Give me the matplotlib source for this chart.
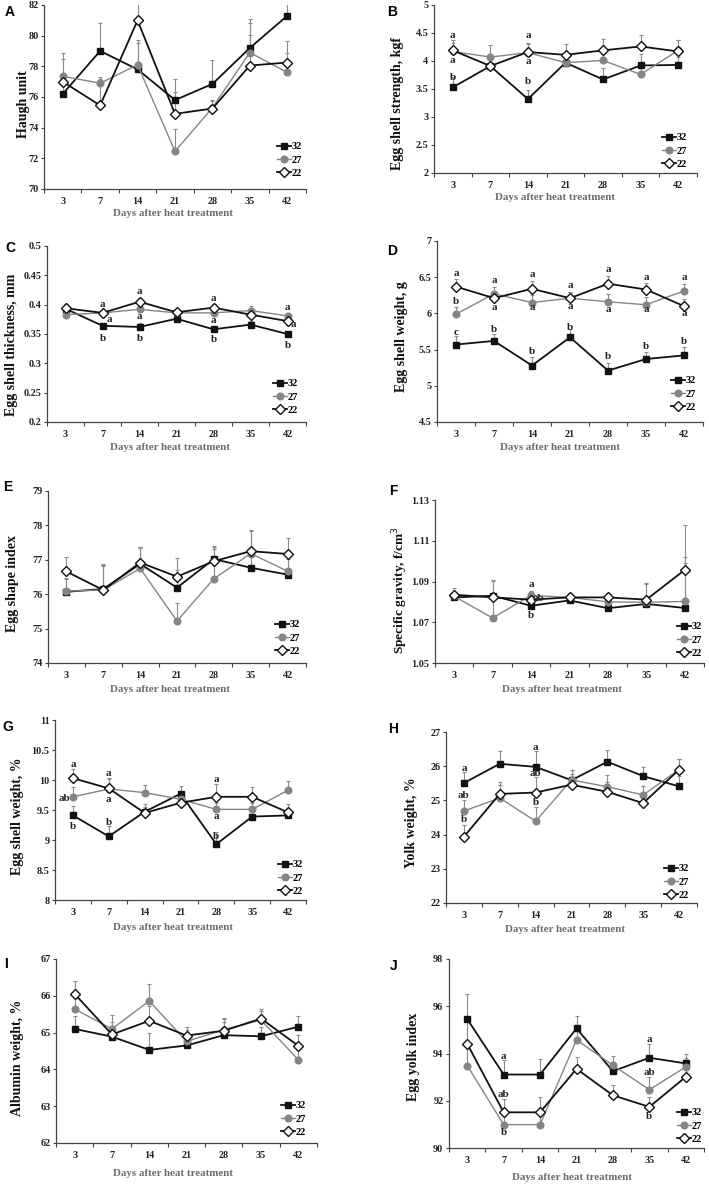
import matplotlib
matplotlib.use('Agg')
import matplotlib.pyplot as plt
from matplotlib.ticker import FixedLocator, NullFormatter

# ---------------- data ----------------
DAYS = ['3', '7', '14', '21', '28', '35', '42']
SERIES = ['32', '27', '22']
XLABEL = 'Days after heat treatment'

# A  Haugh unit
haugh_32 = [76.2, 79.0, 77.8, 75.8, 76.85, 79.2, 81.3]
haugh_27 = [77.35, 76.9, 78.1, 72.45, 75.3, 78.9, 77.6]
haugh_22 = [77.0, 75.45, 81.0, 74.9, 75.25, 78.05, 78.25]
haugh_32_err = [0.8, 1.8, 1.7, 1.4, 1.55, 1.9, 1.0]
haugh_27_err = [1.55, 0.3, 1.65, 1.45, 0.5, 1.9, 1.3]
haugh_22_err = [1.5, 1.85, 1.3, 1.4, 0.5, 2.0, 1.4]

# B  Egg shell strength
str_32 = [3.53, 3.91, 3.32, 3.97, 3.67, 3.92, 3.93]
str_27 = [4.17, 4.07, 4.15, 3.97, 4.01, 3.76, 4.19]
str_22 = [4.19, 3.91, 4.16, 4.11, 4.19, 4.26, 4.17]
str_32_err = [0.18, 0.15, 0.16, 0.15, 0.21, 0.21, 0.15]
str_27_err = [0.15, 0.21, 0.15, 0.15, 0.15, 0.15, 0.19]
str_22_err = [0.18, 0.15, 0.16, 0.20, 0.21, 0.21, 0.20]

# C  Egg shell thickness
thk_32 = [0.393, 0.364, 0.362, 0.376, 0.358, 0.366, 0.350]
thk_27 = [0.383, 0.386, 0.392, 0.386, 0.386, 0.390, 0.381]
thk_22 = [0.394, 0.386, 0.405, 0.387, 0.395, 0.383, 0.372]
thk_32_err = [0.006, 0.005, 0.006, 0.005, 0.006, 0.006, 0.005]
thk_27_err = [0.006, 0.005, 0.006, 0.005, 0.006, 0.007, 0.005]
thk_22_err = [0.007, 0.005, 0.006, 0.006, 0.006, 0.006, 0.005]

# D  Egg shell weight, g
sw_32 = [5.57, 5.62, 5.28, 5.67, 5.21, 5.37, 5.42]
sw_27 = [5.99, 6.27, 6.15, 6.21, 6.16, 6.12, 6.31]
sw_22 = [6.37, 6.21, 6.34, 6.21, 6.41, 6.33, 6.10]
sw_32_err = [0.12, 0.10, 0.12, 0.11, 0.11, 0.09, 0.11]
sw_27_err = [0.10, 0.10, 0.10, 0.09, 0.11, 0.10, 0.10]
sw_22_err = [0.11, 0.09, 0.11, 0.09, 0.11, 0.09, 0.10]

# E  Egg shape index
esi_32 = [76.07, 76.15, 76.88, 76.19, 77.02, 76.77, 76.57]
esi_27 = [76.09, 76.12, 76.75, 75.22, 76.45, 77.18, 76.67]
esi_22 = [76.66, 76.12, 76.92, 76.51, 76.96, 77.25, 77.17]
esi_32_err = [0.40, 0.70, 0.50, 0.50, 0.38, 0.60, 0.45]
esi_27_err = [0.35, 0.76, 0.60, 0.51, 0.85, 0.70, 0.40]
esi_22_err = [0.42, 0.70, 0.45, 0.54, 0.40, 0.60, 0.45]

# F  Specific gravity
sg_32 = [1.0822, 1.0830, 1.0781, 1.0807, 1.0769, 1.0790, 1.0770]
sg_27 = [1.0827, 1.0721, 1.0832, 1.0822, 1.0800, 1.0798, 1.0802]
sg_22 = [1.0835, 1.0822, 1.0811, 1.0822, 1.0822, 1.0811, 1.0957]
sg_32_err = [0.002, 0.0078, 0.002, 0.002, 0.002, 0.010, 0.022]
sg_27_err = [0.002, 0.018, 0.002, 0.002, 0.002, 0.0094, 0.022]
sg_22_err = [0.0032, 0.002, 0.002, 0.002, 0.002, 0.002, 0.022]

# G  Egg shell weight, %
esw_32 = [9.41, 9.06, 9.47, 9.77, 8.93, 9.39, 9.41]
esw_27 = [9.72, 9.85, 9.79, 9.68, 9.51, 9.51, 9.83]
esw_22 = [10.03, 9.86, 9.45, 9.62, 9.72, 9.72, 9.46]
esw_32_err = [0.16, 0.17, 0.13, 0.13, 0.21, 0.10, 0.10]
esw_27_err = [0.16, 0.17, 0.13, 0.10, 0.10, 0.10, 0.15]
esw_22_err = [0.15, 0.18, 0.10, 0.10, 0.21, 0.17, 0.14]

# H  Yolk weight, %
yw_32 = [25.51, 26.07, 25.98, 25.59, 26.13, 25.71, 25.41]
yw_27 = [24.69, 25.07, 24.39, 25.60, 25.40, 25.16, 25.90]
yw_22 = [23.94, 25.19, 25.23, 25.46, 25.25, 24.92, 25.90]
yw_32_err = [0.32, 0.37, 0.46, 0.30, 0.34, 0.26, 0.30]
yw_27_err = [0.32, 0.38, 0.42, 0.30, 0.33, 0.27, 0.30]
yw_22_err = [0.33, 0.36, 0.45, 0.32, 0.30, 0.30, 0.30]

# I  Albumin weight, %
aw_32 = [65.10, 64.89, 64.53, 64.65, 64.93, 64.90, 65.16]
aw_27 = [65.64, 65.10, 65.86, 64.76, 65.08, 65.34, 64.26]
aw_22 = [66.05, 64.95, 65.32, 64.92, 65.05, 65.38, 64.64]
aw_32_err = [0.36, 0.30, 0.46, 0.30, 0.36, 0.25, 0.30]
aw_27_err = [0.30, 0.39, 0.45, 0.30, 0.30, 0.25, 0.30]
aw_22_err = [0.36, 0.35, 0.40, 0.23, 0.36, 0.25, 0.30]

# J  Egg yolk index
yi_32 = [95.46, 93.11, 93.11, 95.06, 93.25, 93.82, 93.58]
yi_27 = [93.49, 90.99, 90.99, 94.58, 93.50, 92.47, 93.43]
yi_22 = [94.41, 91.51, 91.51, 93.35, 92.23, 91.74, 93.01]
yi_32_err = [1.04, 0.60, 0.65, 0.52, 0.40, 0.58, 0.40]
yi_27_err = [1.00, 0.60, 0.60, 0.50, 0.38, 0.53, 0.40]
yi_22_err = [1.00, 0.56, 0.63, 0.51, 0.42, 0.42, 0.40]

# significance letters: (day index, y value, text, x shift in categories)
ann_B = [(0, 4.45, 'a', 0), (0, 4.01, 'a', 0), (0, 3.70, 'b', 0),
         (2, 4.45, 'a', 0), (2, 3.99, 'a', 0), (2, 3.63, 'b', 0)]
ann_C = [(1, 0.401, 'a', 0), (1, 0.375, 'a', 0.18), (1, 0.343, 'b', 0),
         (2, 0.422, 'a', 0), (2, 0.380, 'a', 0), (2, 0.343, 'b', 0),
         (4, 0.410, 'a', 0), (4, 0.373, 'a', 0), (4, 0.341, 'b', 0),
         (6, 0.395, 'a', 0), (6, 0.367, 'a', 0.15), (6, 0.330, 'b', 0)]
ann_D = [(0, 6.55, 'a', 0), (1, 6.45, 'a', 0), (2, 6.54, 'a', 0), (3, 6.39, 'a', 0),
         (4, 6.61, 'a', 0), (5, 6.49, 'a', 0), (6, 6.49, 'a', 0),
         (0, 6.17, 'b', 0), (1, 6.08, 'a', 0), (2, 6.08, 'a', 0), (3, 6.10, 'a', 0),
         (4, 6.06, 'a', 0), (5, 6.06, 'a', 0), (6, 6.00, 'a', 0),
         (0, 5.74, 'c', 0), (1, 5.78, 'b', 0), (2, 5.48, 'b', 0), (3, 5.81, 'b', 0),
         (4, 5.41, 'b', 0), (5, 5.54, 'b', 0), (6, 5.61, 'b', 0)]
ann_F = [(2, 1.0884, 'a', 0), (2, 1.0818, 'ab', 0.2), (2, 1.0732, 'b', 0)]
ann_G = [(0, 10.26, 'a', 0), (0, 9.69, 'ab', -0.24), (0, 9.22, 'b', 0),
         (1, 10.10, 'a', 0), (1, 9.68, 'a', 0), (1, 9.29, 'b', 0),
         (4, 10.00, 'a', 0), (4, 9.39, 'a', 0), (4, 9.06, 'b', 0)]
ann_H = [(0, 25.94, 'a', 0), (0, 25.14, 'ab', 0), (0, 24.43, 'b', 0),
         (2, 26.56, 'a', 0), (2, 25.80, 'ab', 0), (2, 24.95, 'b', 0)]
ann_J = [(1, 93.89, 'a', 0), (1, 92.28, 'ab', 0), (1, 90.64, 'b', 0),
         (5, 94.60, 'a', 0), (5, 93.20, 'ab', 0), (5, 91.34, 'b', 0)]

# ---------------- drawing ----------------
W, H = 709, 1184
fig = plt.figure(figsize=(W / 100, H / 100), dpi=100)
SERIF = 'Liberation Serif'
SANS = 'Liberation Sans'

STY = [dict(color='#111111', marker='s', ms=4.5, mfc='#111111', mec='#111111', lw=1.3),
       dict(color='#858585', marker='o', ms=4.8, mfc='#858585', mec='#858585', lw=1.0),
       dict(color='#111111', marker='D', ms=4.8, mfc='white', mec='#111111', mew=1.0, lw=1.3)]


def px_rect(x0, x1, yt, yb):
    return [x0 / W, 1 - yb / H, (x1 - x0) / W, (yb - yt) / H]


def panel(box, ylim, yticks, vals, errs, letter, letter_xy, ylabel, ylab_xy,
          xlab_xy, leg_xy, ann=(), ylab_size=10):
    ax = fig.add_axes(px_rect(*box))
    x = list(range(len(DAYS)))
    for v, e in zip(vals, errs):
        ax.errorbar(x, v, yerr=[[0] * len(v), e], fmt='none', ecolor='#8c8c8c',
                    elinewidth=0.8, capsize=1.6, capthick=0.8, zorder=2)
    handles = []
    for i, (v, lab) in enumerate(zip(vals, SERIES)):
        h, = ax.plot(x, v, label=lab, zorder=3 + i, **STY[i])
        handles.append(h)
    ax.set_xlim(-0.5, len(DAYS) - 0.5)
    ax.set_ylim(*ylim)
    ax.set_yticks(yticks)
    ax.set_yticklabels(['{:g}'.format(t) for t in yticks])
    ax.set_xticks(x)
    ax.set_xticklabels(DAYS)
    ax.xaxis.set_minor_locator(FixedLocator([i - 0.5 for i in range(len(DAYS) + 1)]))
    ax.xaxis.set_minor_formatter(NullFormatter())
    ax.tick_params(axis='x', which='major', length=0, pad=6)
    ax.tick_params(axis='x', which='minor', length=3, width=0.8, color='#444444')
    ax.tick_params(axis='y', direction='out', length=2.5, width=0.8,
                  color='#444444', pad=1.5)
    for lbl in ax.get_xticklabels() + ax.get_yticklabels():
        lbl.set_fontfamily(SERIF)
        lbl.set_fontweight('bold')
        lbl.set_fontsize(7.3)
        lbl.set_color('#222222')
    for s in ['top', 'right']:
        ax.spines[s].set_visible(False)
    for s in ['left', 'bottom']:
        ax.spines[s].set_color('#444444')
        ax.spines[s].set_linewidth(0.9)
    for (i, yv, t, dx) in ann:
        ax.text(i + dx, yv, t, ha='center', va='center', fontfamily=SERIF,
                fontweight='bold', fontsize=8, color='#222222', zorder=10)
    ax.legend(handles=handles, loc='center left',
              bbox_to_anchor=(leg_xy[0] / W, 1 - leg_xy[1] / H),
              bbox_transform=fig.transFigure, frameon=False, borderpad=0,
              borderaxespad=0, handlelength=1.3, handletextpad=0.15,
              labelspacing=0.38,
              prop=dict(family=SERIF, weight='bold', size=7.5))
    fig.text(letter_xy[0] / W, 1 - letter_xy[1] / H, letter, fontfamily=SANS,
             fontweight='bold', fontsize=10, ha='center', va='center')
    fig.text(ylab_xy[0] / W, 1 - ylab_xy[1] / H, ylabel, rotation=90,
             fontfamily=SERIF, fontweight='bold', fontsize=ylab_size,
             ha='center', va='center', color='#111111')
    fig.text(xlab_xy[0] / W, 1 - xlab_xy[1] / H, XLABEL, fontfamily=SERIF,
             fontweight='bold', fontsize=7.8, ha='center', va='center',
             color='#6a6a6a')
    return ax


panel((44, 306, 5, 189), (70, 82), [70, 72, 74, 76, 78, 80, 82],
      [haugh_32, haugh_27, haugh_22], [haugh_32_err, haugh_27_err, haugh_22_err],
      'A', (10, 12), 'Haugh unit', (24, 104), (173, 214), (277, 160))

panel((434, 697, 5, 173), (2, 5), [2, 2.5, 3, 3.5, 4, 4.5, 5],
      [str_32, str_27, str_22], [str_32_err, str_27_err, str_22_err],
      'B', (392, 12), 'Egg shell strength, kgf', (397, 103), (555, 197),
      (662, 151), ann_B)

panel((47, 306, 246, 422), (0.2, 0.5), [0.2, 0.25, 0.3, 0.35, 0.4, 0.45, 0.5],
      [thk_32, thk_27, thk_22], [thk_32_err, thk_27_err, thk_22_err],
      'C', (10, 248), 'Egg shell thickness, mm', (12, 345), (170, 448),
      (273, 397), ann_C)

panel((437, 703, 241, 422), (4.5, 7), [4.5, 5, 5.5, 6, 6.5, 7],
      [sw_32, sw_27, sw_22], [sw_32_err, sw_27_err, sw_22_err],
      'D', (392, 251), 'Egg shell weight, g', (401, 337), (560, 448),
      (671, 394), ann_D)

panel((48, 306, 491, 663), (74, 79), [74, 75, 76, 77, 78, 79],
      [esi_32, esi_27, esi_22], [esi_32_err, esi_27_err, esi_22_err],
      'E', (8, 487), 'Egg shape index', (13, 584), (170, 690), (275, 638))

panel((435, 704, 500, 663), (1.05, 1.13), [1.05, 1.07, 1.09, 1.11, 1.13],
      [sg_32, sg_27, sg_22], [sg_32_err, sg_27_err, sg_22_err],
      'F', (393, 491), 'Specific gravity, f/cm$^3$', (400, 590), (562, 690),
      (677, 640), ann_F, ylab_size=9.6)

panel((55, 306, 720, 900), (8, 11), [8, 8.5, 9, 9.5, 10, 10.5, 11],
      [esw_32, esw_27, esw_22], [esw_32_err, esw_27_err, esw_22_err],
      'G', (8, 727), 'Egg shell weight, %', (18, 816), (173, 928),
      (278, 878), ann_G)

panel((446, 697, 732, 903), (22, 27), [22, 23, 24, 25, 26, 27],
      [yw_32, yw_27, yw_22], [yw_32_err, yw_27_err, yw_22_err],
      'H', (393, 729), 'Yolk weight, %', (411, 823), (565, 930),
      (664, 882), ann_H)

panel((56, 317, 959, 1143), (62, 67), [62, 63, 64, 65, 66, 67],
      [aw_32, aw_27, aw_22], [aw_32_err, aw_27_err, aw_22_err],
      'I', (6, 964), 'Albumin weight, %', (18, 1058), (173, 1173),
      (281, 1119))

panel((449, 704, 959, 1148), (90, 98), [90, 92, 94, 96, 98],
      [yi_32, yi_27, yi_22], [yi_32_err, yi_27_err, yi_22_err],
      'J', (394, 966), 'Egg yolk index', (414, 1057), (572, 1177),
      (677, 1126), ann_J)

fig.savefig('out.png', dpi=100)
